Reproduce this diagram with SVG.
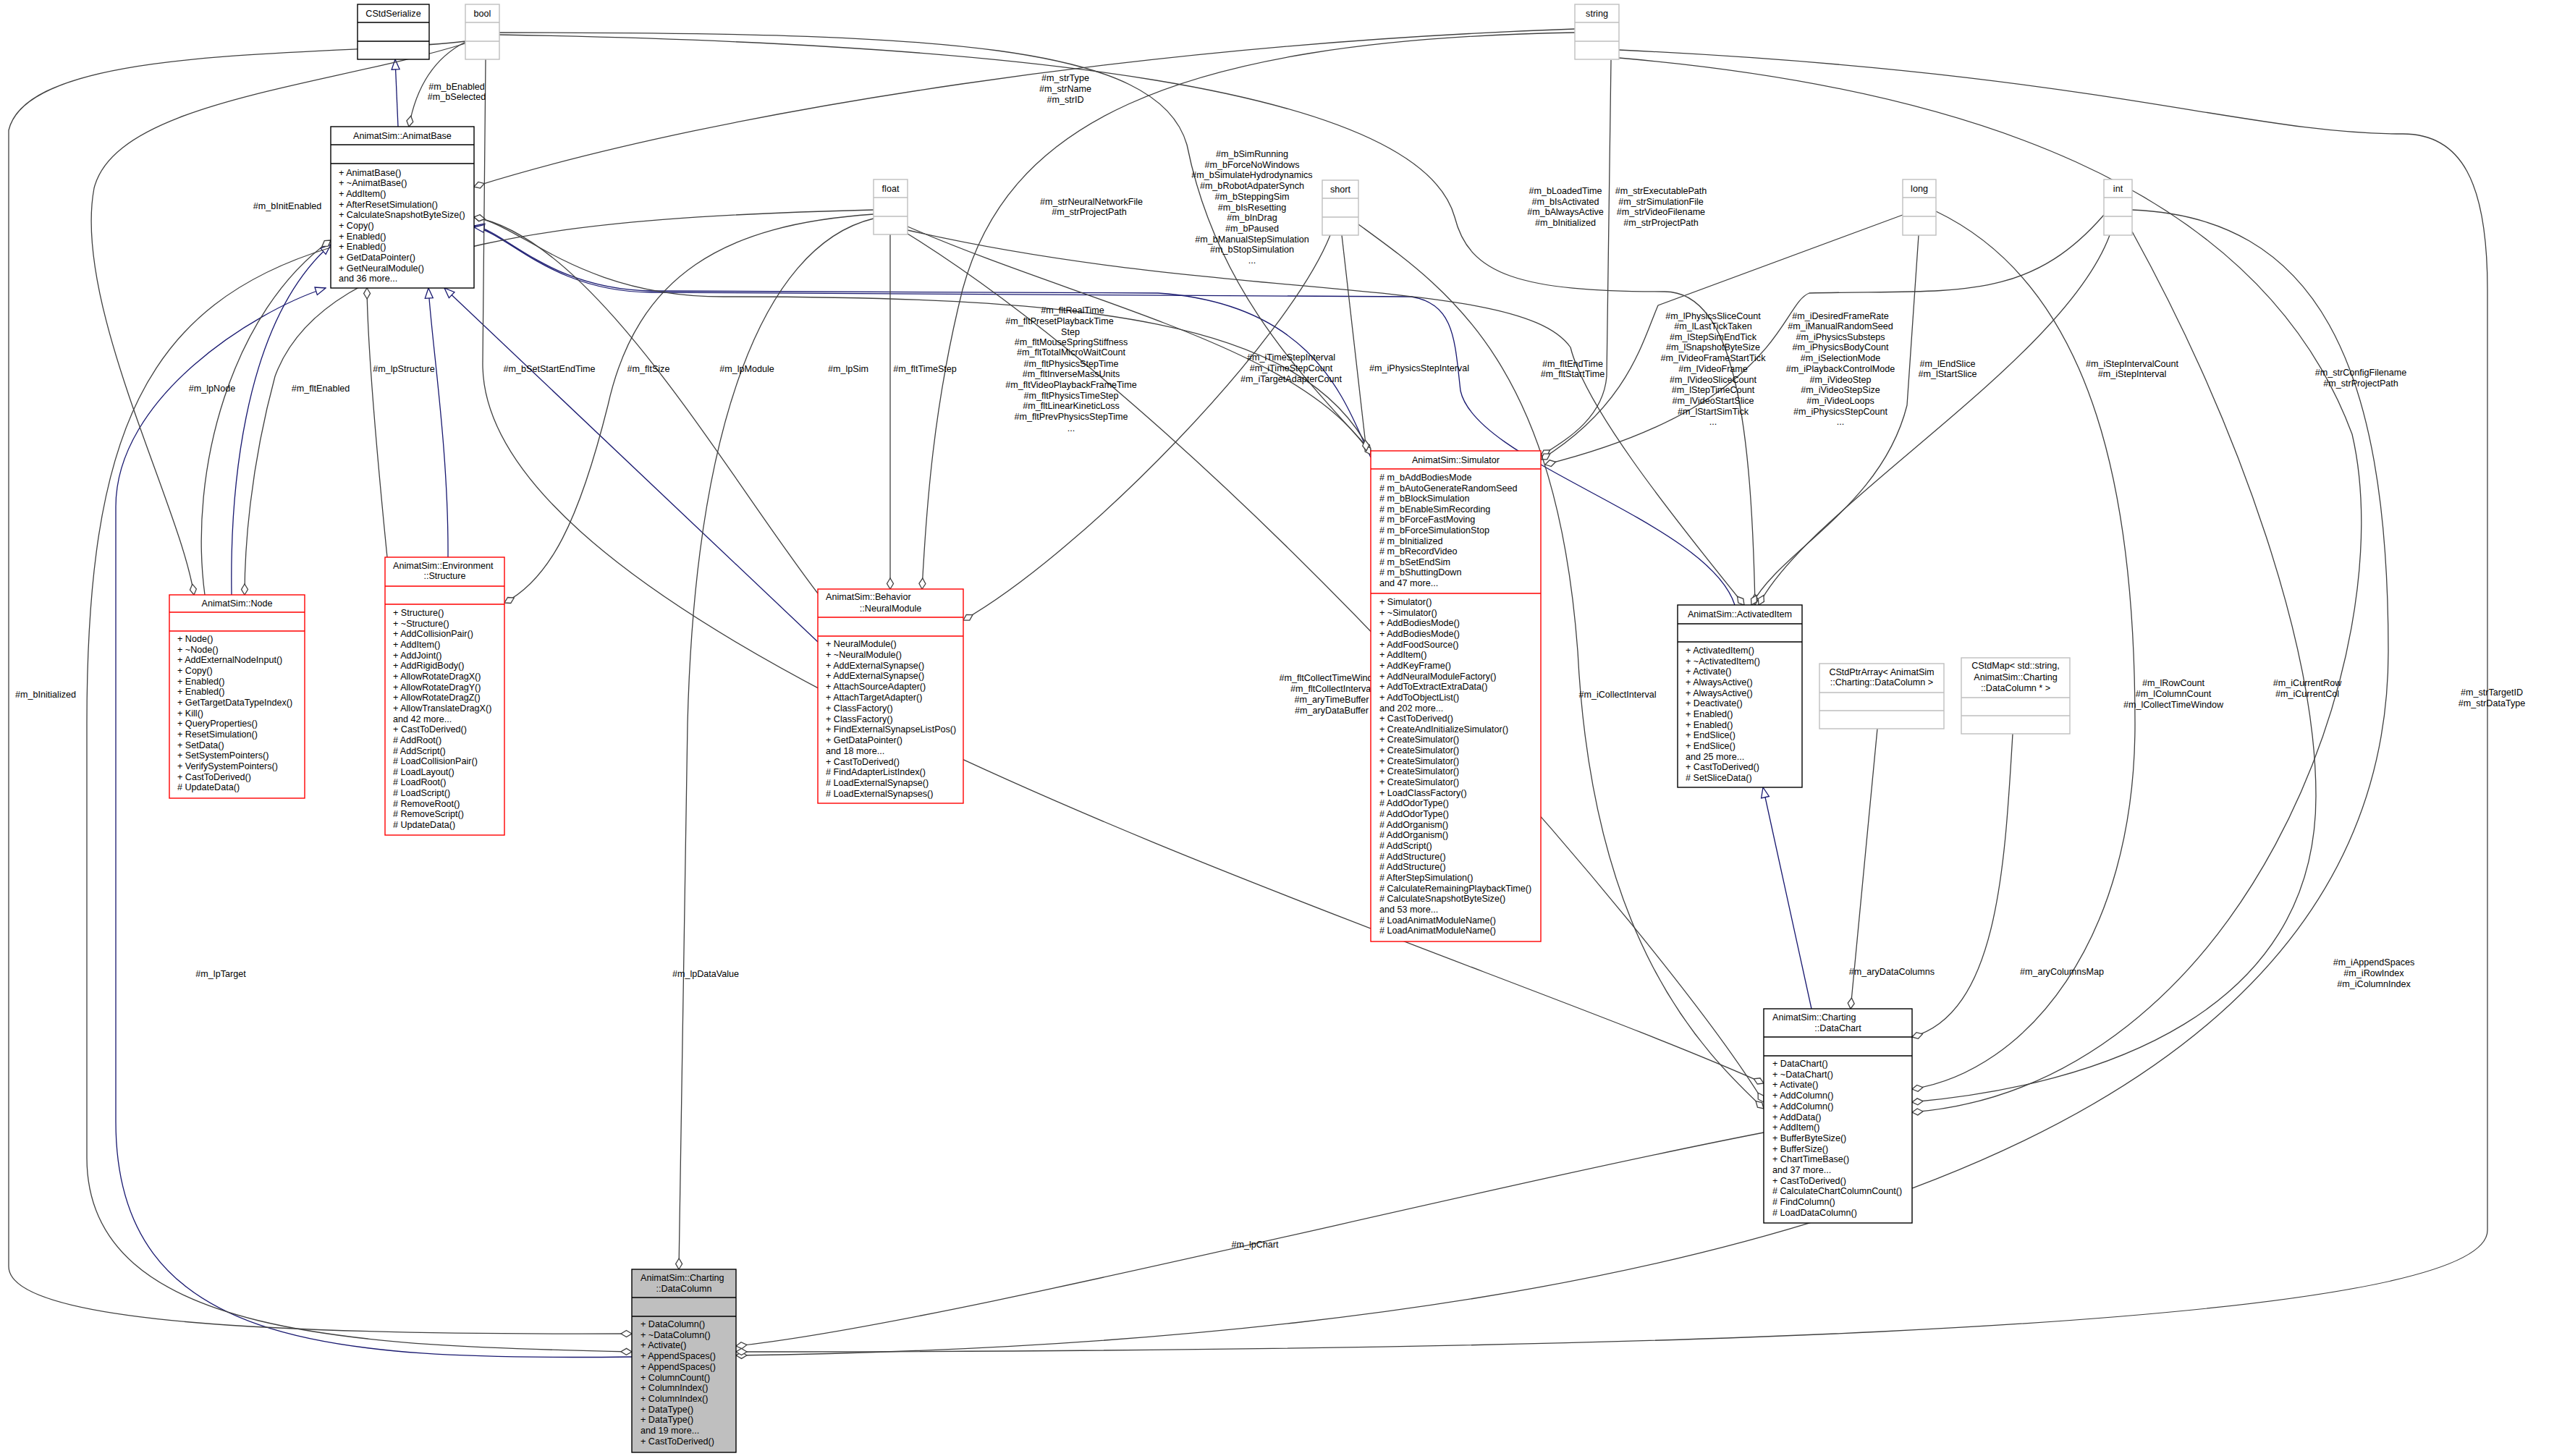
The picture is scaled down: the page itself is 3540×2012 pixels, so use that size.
<svg xmlns="http://www.w3.org/2000/svg" width="3540" height="2012" viewBox="0 0 3540 2012">
<style>
text{font-family:"Liberation Sans",Arial,sans-serif;font-size:12.6px;fill:#000}
.c{text-anchor:middle}
.bx{fill:#fff;stroke:#000;stroke-width:1.4}
.rd{fill:#fff;stroke:#f00;stroke-width:1.4}
.gy{fill:#fff;stroke:#bfbfbf;stroke-width:1.4}
.gr{fill:#bfbfbf;stroke:#000;stroke-width:1.4}
.e{fill:none;stroke:#404040;stroke-width:1.3;marker-end:url(#dia)}
.i{fill:none;stroke:#191970;stroke-width:1.3;marker-end:url(#tri)}
</style>
<defs>
<marker id="dia" markerUnits="userSpaceOnUse" viewBox="-17 -6 18 12" refX="0" refY="0" markerWidth="18" markerHeight="12" orient="auto"><path d="M0,0 L-7.5,-4.5 L-15,0 L-7.5,4.5 Z" fill="#fff" stroke="#404040" stroke-width="1.3"/></marker>
<marker id="tri" markerUnits="userSpaceOnUse" viewBox="-16 -7 17 14" refX="0" refY="0" markerWidth="17" markerHeight="14" orient="auto"><path d="M0,0 L-14,-5.5 L-14,5.5 Z" fill="#fff" stroke="#191970" stroke-width="1.3"/></marker>
</defs>
<rect width="3540" height="2012" fill="#fff"/>
<g id="edges">
<path class="i" d="M550,175 L546,82"/>
<path class="i" d="M320,822 C318,700 330,450 457,338"/>
<path class="i" d="M619,770 C620,620 596,470 592,398"/>
<path class="i" d="M1130,887 L614,398"/>
<path class="i" d="M1894,632 C1860,560 1820,420 1600,405 L900,402 C760,400 700,320 655,312"/>
<path class="i" d="M2397,836 C2360,720 2040,640 2018,540 C2010,470 2010,420 1950,410 L900,404 C760,403 700,320 655,314"/>
<path class="i" d="M2503,1394 L2436,1088"/>
<path class="i" d="M873,1875 C450,1880 160,1860 160,1550 L160,700 C160,550 350,430 450,398"/>
<path class="e" d="M643,58 C600,80 575,120 565,175"/>
<path class="e" d="M2176,40 C1600,60 1000,150 655,258"/>
<path class="e" d="M643,57 C450,80 40,60 12,180 L12,1750 C12,1830 400,1845 873,1843"/>
<path class="e" d="M643,60 C450,120 160,140 130,260 C100,420 250,700 268,822"/>
<path class="e" d="M283,822 C260,650 320,430 457,332"/>
<path class="e" d="M1207,290 C800,300 450,330 380,520 C345,650 338,760 338,822"/>
<path class="e" d="M1207,296 C1000,310 880,380 840,560 C800,720 760,800 697,833"/>
<path class="e" d="M1207,302 C1050,340 960,600 950,1000 L938,1754"/>
<path class="e" d="M535,770 C520,620 508,480 507,398"/>
<path class="e" d="M1130,820 C1000,650 820,330 655,300"/>
<path class="e" d="M1894,625 C1800,440 1500,410 1000,410 C800,410 720,310 655,300"/>
<path class="e" d="M1230,324 L1230,814"/>
<path class="e" d="M2176,45 C1600,55 1390,180 1330,400 C1290,560 1280,700 1274,814"/>
<path class="e" d="M1838,325 C1780,470 1500,760 1331,857"/>
<path class="e" d="M690,45 C1300,45 1600,60 1640,200 C1680,400 1800,520 1894,623"/>
<path class="e" d="M1254,313 C1500,420 1800,480 1894,628"/>
<path class="e" d="M1854,325 L1888,623"/>
<path class="e" d="M2226,83 L2220,520 C2215,580 2160,610 2129,630"/>
<path class="e" d="M2629,297 L2291,422 C2270,470 2250,560 2129,635"/>
<path class="e" d="M2907,297 C2800,420 2700,400 2500,405 C2460,420 2460,560 2135,642"/>
<path class="e" d="M690,48 C1400,60 1960,120 2010,300 C2030,380 2100,403 2300,403 C2400,403 2420,600 2425,836"/>
<path class="e" d="M1254,318 C1700,420 2100,380 2170,480 C2190,560 2300,700 2410,836"/>
<path class="e" d="M2651,325 L2635,560 C2600,700 2460,760 2420,836"/>
<path class="e" d="M2915,325 C2850,500 2500,700 2430,836"/>
<path class="e" d="M2594,1007 L2557,1394"/>
<path class="e" d="M2781,1014 C2770,1200 2760,1400 2642,1433"/>
<path class="e" d="M671,82 L667,500 C660,900 2000,1300 2437,1497"/>
<path class="e" d="M1254,323 C1700,600 2300,1300 2437,1523"/>
<path class="e" d="M1877,310 C2000,400 2150,500 2180,900 C2200,1300 2350,1450 2437,1532"/>
<path class="e" d="M2675,292 C2900,400 2950,700 2950,1000 C2950,1300 2800,1480 2642,1505"/>
<path class="e" d="M2946,320 C3100,600 3200,900 3200,1100 C3200,1400 2900,1500 2642,1523"/>
<path class="e" d="M2237,80 C2700,120 3120,250 3250,600 C3320,900 3100,1500 2642,1537"/>
<path class="e" d="M2437,1565 C2000,1650 1300,1830 1017,1860"/>
<path class="e" d="M2946,290 C3200,300 3300,500 3300,900 C3300,1700 2000,1860 1017,1873"/>
<path class="e" d="M2237,69 C2900,100 3100,185 3320,185 C3400,185 3437,250 3437,400 L3437,1700 C3437,1850 2000,1868 1017,1868"/>
<path class="e" d="M457,342 C200,420 120,600 120,1000 L120,1600 C120,1850 500,1860 873,1868"/>
</g>
<g id="labels">
<text class="c" x="631" y="124">#m_bEnabled</text>
<text class="c" x="631" y="138">#m_bSelected</text>
<text class="c" x="1472" y="112">#m_strType</text>
<text class="c" x="1472" y="127">#m_strName</text>
<text class="c" x="1472" y="142">#m_strID</text>
<text class="c" x="397" y="289">#m_bInitEnabled</text>
<text class="c" x="63" y="964">#m_bInitialized</text>
<text class="c" x="293" y="541">#m_lpNode</text>
<text class="c" x="443" y="541">#m_fltEnabled</text>
<text class="c" x="558" y="514">#m_lpStructure</text>
<text class="c" x="759" y="514">#m_bSetStartEndTime</text>
<text class="c" x="896" y="514">#m_fltSize</text>
<text class="c" x="1032" y="514">#m_lpModule</text>
<text class="c" x="1172" y="514">#m_lpSim</text>
<text class="c" x="1278" y="514">#m_fltTimeStep</text>
<text class="c" x="1508" y="283">#m_strNeuralNetworkFile</text>
<text class="c" x="1505" y="297">#m_strProjectPath</text>
<text class="c" x="1730"><tspan x="1730" y="217">#m_bSimRunning</tspan><tspan x="1730" y="231.7">#m_bForceNoWindows</tspan><tspan x="1730" y="246.4">#m_bSimulateHydrodynamics</tspan><tspan x="1730" y="261.1">#m_bRobotAdpaterSynch</tspan><tspan x="1730" y="275.8">#m_bSteppingSim</tspan><tspan x="1730" y="290.5">#m_bIsResetting</tspan><tspan x="1730" y="305.2">#m_bInDrag</tspan><tspan x="1730" y="319.9">#m_bPaused</tspan><tspan x="1730" y="334.6">#m_bManualStepSimulation</tspan><tspan x="1730" y="349.3">#m_bStopSimulation</tspan><tspan x="1730" y="364">...</tspan></text>
<text class="c"><tspan x="1482" y="433">#m_fltRealTime</tspan><tspan x="1464" y="448">#m_fltPresetPlaybackTime</tspan><tspan x="1479" y="463">Step</tspan><tspan x="1480" y="477">#m_fltMouseSpringStiffness</tspan><tspan x="1480" y="491">#m_fltTotalMicroWaitCount</tspan><tspan x="1480" y="507">#m_fltPhysicsStepTime</tspan><tspan x="1480" y="521">#m_fltInverseMassUnits</tspan><tspan x="1480" y="536">#m_fltVideoPlaybackFrameTime</tspan><tspan x="1480" y="551">#m_fltPhysicsTimeStep</tspan><tspan x="1480" y="565">#m_fltLinearKineticLoss</tspan><tspan x="1480" y="580">#m_fltPrevPhysicsStepTime</tspan><tspan x="1480" y="596">...</tspan></text>
<text class="c"><tspan x="1784" y="498">#m_iTimeStepInterval</tspan><tspan x="1784" y="513">#m_iTimeStepCount</tspan><tspan x="1784" y="528">#m_iTargetAdapterCount</tspan></text>
<text class="c" x="1961" y="513">#m_iPhysicsStepInterval</text>
<text class="c"><tspan x="2163" y="268">#m_bLoadedTime</tspan><tspan x="2163" y="283">#m_bIsActivated</tspan><tspan x="2163" y="297">#m_bAlwaysActive</tspan><tspan x="2163" y="312">#m_bInitialized</tspan></text>
<text class="c"><tspan x="2295" y="268">#m_strExecutablePath</tspan><tspan x="2295" y="283">#m_strSimulationFile</tspan><tspan x="2295" y="297">#m_strVideoFilename</tspan><tspan x="2295" y="312">#m_strProjectPath</tspan></text>
<text class="c"><tspan x="2173" y="507">#m_fltEndTime</tspan><tspan x="2173" y="521">#m_fltStartTime</tspan></text>
<text class="c"><tspan x="2367" y="441">#m_lPhysicsSliceCount</tspan><tspan x="2367" y="455">#m_lLastTickTaken</tspan><tspan x="2367" y="470">#m_lStepSimEndTick</tspan><tspan x="2367" y="484">#m_lSnapshotByteSize</tspan><tspan x="2367" y="499">#m_lVideoFrameStartTick</tspan><tspan x="2367" y="514">#m_lVideoFrame</tspan><tspan x="2367" y="529">#m_lVideoSliceCount</tspan><tspan x="2367" y="543">#m_lStepTimeCount</tspan><tspan x="2367" y="558">#m_lVideoStartSlice</tspan><tspan x="2367" y="573">#m_lStartSimTick</tspan><tspan x="2367" y="587">...</tspan></text>
<text class="c"><tspan x="2543" y="441">#m_iDesiredFrameRate</tspan><tspan x="2543" y="455">#m_iManualRandomSeed</tspan><tspan x="2543" y="470">#m_iPhysicsSubsteps</tspan><tspan x="2543" y="484">#m_iPhysicsBodyCount</tspan><tspan x="2543" y="499">#m_iSelectionMode</tspan><tspan x="2543" y="514">#m_iPlaybackControlMode</tspan><tspan x="2543" y="529">#m_iVideoStep</tspan><tspan x="2543" y="543">#m_iVideoStepSize</tspan><tspan x="2543" y="558">#m_iVideoLoops</tspan><tspan x="2543" y="573">#m_iPhysicsStepCount</tspan><tspan x="2543" y="587">...</tspan></text>
<text class="c"><tspan x="2691" y="507">#m_lEndSlice</tspan><tspan x="2691" y="521">#m_lStartSlice</tspan></text>
<text class="c"><tspan x="2946" y="507">#m_iStepIntervalCount</tspan><tspan x="2946" y="521">#m_iStepInterval</tspan></text>
<text class="c"><tspan x="3262" y="519">#m_strConfigFilename</tspan><tspan x="3262" y="534">#m_strProjectPath</tspan></text>
<text class="c"><tspan x="1840" y="941">#m_fltCollectTimeWindow</tspan><tspan x="1840" y="956">#m_fltCollectInterval</tspan><tspan x="1840" y="971">#m_aryTimeBuffer</tspan><tspan x="1840" y="986">#m_aryDataBuffer</tspan></text>
<text class="c" x="2235" y="964">#m_iCollectInterval</text>
<text class="c"><tspan x="3003" y="948">#m_lRowCount</tspan><tspan x="3003" y="963">#m_lColumnCount</tspan><tspan x="3003" y="978">#m_lCollectTimeWindow</tspan></text>
<text class="c"><tspan x="3188" y="948">#m_iCurrentRow</tspan><tspan x="3188" y="963">#m_iCurrentCol</tspan></text>
<text class="c"><tspan x="3443" y="961">#m_strTargetID</tspan><tspan x="3443" y="976">#m_strDataType</tspan></text>
<text class="c" x="2614" y="1347">#m_aryDataColumns</text>
<text class="c" x="2849" y="1347">#m_aryColumnsMap</text>
<text class="c"><tspan x="3280" y="1334">#m_iAppendSpaces</tspan><tspan x="3280" y="1349">#m_iRowIndex</tspan><tspan x="3280" y="1364">#m_iColumnIndex</tspan></text>
<text class="c" x="305" y="1350">#m_lpTarget</text>
<text class="c" x="975" y="1350">#m_lpDataValue</text>
<text class="c" x="1734" y="1724">#m_lpChart</text>
</g>
<g id="CStdSerialize"><rect class="bx" x="494" y="6" width="99" height="76"/><path class="bx" d="M494,31H593M494,57H593"/><text class="c" x="543.5" y="23">CStdSerialize</text></g>
<g id="bool"><rect class="gy" x="643" y="6" width="47" height="76"/><path class="gy" d="M643,31H690M643,57H690"/><text class="c" x="666.5" y="23">bool</text></g>
<g id="string"><rect class="gy" x="2176" y="6" width="61" height="76"/><path class="gy" d="M2176,31H2237M2176,57H2237"/><text class="c" x="2206.5" y="23">string</text></g>
<g id="float"><rect class="gy" x="1207" y="248" width="47" height="76"/><path class="gy" d="M1207,273H1254M1207,299H1254"/><text class="c" x="1230.5" y="265">float</text></g>
<g id="short"><rect class="gy" x="1827" y="249" width="50" height="76"/><path class="gy" d="M1827,274H1877M1827,300H1877"/><text class="c" x="1852" y="266">short</text></g>
<g id="long"><rect class="gy" x="2629" y="248" width="46" height="77"/><path class="gy" d="M2629,273H2675M2629,299H2675"/><text class="c" x="2652" y="265">long</text></g>
<g id="int"><rect class="gy" x="2907" y="248" width="39" height="77"/><path class="gy" d="M2907,273H2946M2907,299H2946"/><text class="c" x="2926.5" y="265">int</text></g>
<g id="AnimatBase"><rect class="bx" x="457" y="175" width="198" height="223"/><path class="bx" d="M457,200H655M457,226H655"/><text class="c" x="556" y="192">AnimatSim::AnimatBase</text>
<text><tspan x="468" y="242.5">+ AnimatBase()</tspan><tspan x="468" y="257.2">+ ~AnimatBase()</tspan><tspan x="468" y="271.8">+ AddItem()</tspan><tspan x="468" y="286.5">+ AfterResetSimulation()</tspan><tspan x="468" y="301.2">+ CalculateSnapshotByteSize()</tspan><tspan x="468" y="315.8">+ Copy()</tspan><tspan x="468" y="330.5">+ Enabled()</tspan><tspan x="468" y="345.2">+ Enabled()</tspan><tspan x="468" y="359.9">+ GetDataPointer()</tspan><tspan x="468" y="374.5">+ GetNeuralModule()</tspan><tspan x="468" y="389.2">and 36 more...</tspan></text></g>
<g id="Node"><rect class="rd" x="234" y="822" width="187" height="281"/><path class="rd" d="M234,846H421M234,872H421"/><text class="c" x="327.5" y="838">AnimatSim::Node</text>
<text><tspan x="245" y="887">+ Node()</tspan><tspan x="245" y="901.7">+ ~Node()</tspan><tspan x="245" y="916.3">+ AddExternalNodeInput()</tspan><tspan x="245" y="930.9">+ Copy()</tspan><tspan x="245" y="945.6">+ Enabled()</tspan><tspan x="245" y="960.3">+ Enabled()</tspan><tspan x="245" y="974.9">+ GetTargetDataTypeIndex()</tspan><tspan x="245" y="989.6">+ Kill()</tspan><tspan x="245" y="1004.2">+ QueryProperties()</tspan><tspan x="245" y="1018.9">+ ResetSimulation()</tspan><tspan x="245" y="1033.5">+ SetData()</tspan><tspan x="245" y="1048.2">+ SetSystemPointers()</tspan><tspan x="245" y="1062.8">+ VerifySystemPointers()</tspan><tspan x="245" y="1077.5">+ CastToDerived()</tspan><tspan x="245" y="1092.1"># UpdateData()</tspan></text></g>
<g id="Structure"><rect class="rd" x="532" y="770" width="165" height="384"/><path class="rd" d="M532,810H697M532,835H697"/><text><tspan x="543" y="786">AnimatSim::Environment</tspan><tspan class="c" x="614.5" y="800">::Structure</tspan></text>
<text><tspan x="543" y="851">+ Structure()</tspan><tspan x="543" y="865.7">+ ~Structure()</tspan><tspan x="543" y="880.3">+ AddCollisionPair()</tspan><tspan x="543" y="895">+ AddItem()</tspan><tspan x="543" y="909.6">+ AddJoint()</tspan><tspan x="543" y="924.3">+ AddRigidBody()</tspan><tspan x="543" y="938.9">+ AllowRotateDragX()</tspan><tspan x="543" y="953.6">+ AllowRotateDragY()</tspan><tspan x="543" y="968.2">+ AllowRotateDragZ()</tspan><tspan x="543" y="982.9">+ AllowTranslateDragX()</tspan><tspan x="543" y="997.5">and 42 more...</tspan><tspan x="543" y="1012.2">+ CastToDerived()</tspan><tspan x="543" y="1026.8"># AddRoot()</tspan><tspan x="543" y="1041.5"># AddScript()</tspan><tspan x="543" y="1056.1"># LoadCollisionPair()</tspan><tspan x="543" y="1070.8"># LoadLayout()</tspan><tspan x="543" y="1085.4"># LoadRoot()</tspan><tspan x="543" y="1100.1"># LoadScript()</tspan><tspan x="543" y="1114.7"># RemoveRoot()</tspan><tspan x="543" y="1129.4"># RemoveScript()</tspan><tspan x="543" y="1144"># UpdateData()</tspan></text></g>
<g id="NeuralModule"><rect class="rd" x="1130" y="814" width="201" height="296"/><path class="rd" d="M1130,853H1331M1130,879H1331"/><text><tspan x="1141" y="829">AnimatSim::Behavior</tspan><tspan class="c" x="1230.5" y="845">::NeuralModule</tspan></text>
<text><tspan x="1141" y="894">+ NeuralModule()</tspan><tspan x="1141" y="908.8">+ ~NeuralModule()</tspan><tspan x="1141" y="923.6">+ AddExternalSynapse()</tspan><tspan x="1141" y="938.3">+ AddExternalSynapse()</tspan><tspan x="1141" y="953.1">+ AttachSourceAdapter()</tspan><tspan x="1141" y="967.9">+ AttachTargetAdapter()</tspan><tspan x="1141" y="982.7">+ ClassFactory()</tspan><tspan x="1141" y="997.5">+ ClassFactory()</tspan><tspan x="1141" y="1012.2">+ FindExternalSynapseListPos()</tspan><tspan x="1141" y="1027">+ GetDataPointer()</tspan><tspan x="1141" y="1041.8">and 18 more...</tspan><tspan x="1141" y="1056.6">+ CastToDerived()</tspan><tspan x="1141" y="1071.4"># FindAdapterListIndex()</tspan><tspan x="1141" y="1086.1"># LoadExternalSynapse()</tspan><tspan x="1141" y="1100.9"># LoadExternalSynapses()</tspan></text></g>
<g id="Simulator"><rect class="rd" x="1894" y="623" width="235" height="678"/><path class="rd" d="M1894,648H2129M1894,820H2129"/><text class="c" x="2011.5" y="640">AnimatSim::Simulator</text>
<text><tspan x="1906" y="664"># m_bAddBodiesMode</tspan><tspan x="1906" y="678.6"># m_bAutoGenerateRandomSeed</tspan><tspan x="1906" y="693.2"># m_bBlockSimulation</tspan><tspan x="1906" y="707.8"># m_bEnableSimRecording</tspan><tspan x="1906" y="722.4"># m_bForceFastMoving</tspan><tspan x="1906" y="737"># m_bForceSimulationStop</tspan><tspan x="1906" y="751.6"># m_bInitialized</tspan><tspan x="1906" y="766.2"># m_bRecordVideo</tspan><tspan x="1906" y="780.8"># m_bSetEndSim</tspan><tspan x="1906" y="795.4"># m_bShuttingDown</tspan><tspan x="1906" y="810">and 47 more...</tspan></text>
<text><tspan x="1906" y="836">+ Simulator()</tspan><tspan x="1906" y="850.65">+ ~Simulator()</tspan><tspan x="1906" y="865.3">+ AddBodiesMode()</tspan><tspan x="1906" y="879.95">+ AddBodiesMode()</tspan><tspan x="1906" y="894.6">+ AddFoodSource()</tspan><tspan x="1906" y="909.25">+ AddItem()</tspan><tspan x="1906" y="923.9">+ AddKeyFrame()</tspan><tspan x="1906" y="938.55">+ AddNeuralModuleFactory()</tspan><tspan x="1906" y="953.2">+ AddToExtractExtraData()</tspan><tspan x="1906" y="967.85">+ AddToObjectList()</tspan><tspan x="1906" y="982.5">and 202 more...</tspan><tspan x="1906" y="997.15">+ CastToDerived()</tspan><tspan x="1906" y="1011.8">+ CreateAndInitializeSimulator()</tspan><tspan x="1906" y="1026.45">+ CreateSimulator()</tspan><tspan x="1906" y="1041.1">+ CreateSimulator()</tspan><tspan x="1906" y="1055.75">+ CreateSimulator()</tspan><tspan x="1906" y="1070.4">+ CreateSimulator()</tspan><tspan x="1906" y="1085.05">+ CreateSimulator()</tspan><tspan x="1906" y="1099.7">+ LoadClassFactory()</tspan><tspan x="1906" y="1114.35"># AddOdorType()</tspan><tspan x="1906" y="1129"># AddOdorType()</tspan><tspan x="1906" y="1143.65"># AddOrganism()</tspan><tspan x="1906" y="1158.3"># AddOrganism()</tspan><tspan x="1906" y="1172.95"># AddScript()</tspan><tspan x="1906" y="1187.6"># AddStructure()</tspan><tspan x="1906" y="1202.25"># AddStructure()</tspan><tspan x="1906" y="1216.9"># AfterStepSimulation()</tspan><tspan x="1906" y="1231.55"># CalculateRemainingPlaybackTime()</tspan><tspan x="1906" y="1246.2"># CalculateSnapshotByteSize()</tspan><tspan x="1906" y="1260.85">and 53 more...</tspan><tspan x="1906" y="1275.5"># LoadAnimatModuleName()</tspan><tspan x="1906" y="1290.15"># LoadAnimatModuleName()</tspan></text></g>
<g id="ActivatedItem"><rect class="bx" x="2318" y="836" width="172" height="252"/><path class="bx" d="M2318,862H2490M2318,887H2490"/><text class="c" x="2404" y="853">AnimatSim::ActivatedItem</text>
<text><tspan x="2329" y="903">+ ActivatedItem()</tspan><tspan x="2329" y="917.7">+ ~ActivatedItem()</tspan><tspan x="2329" y="932.3">+ Activate()</tspan><tspan x="2329" y="947">+ AlwaysActive()</tspan><tspan x="2329" y="961.7">+ AlwaysActive()</tspan><tspan x="2329" y="976.4">+ Deactivate()</tspan><tspan x="2329" y="991">+ Enabled()</tspan><tspan x="2329" y="1005.7">+ Enabled()</tspan><tspan x="2329" y="1020.4">+ EndSlice()</tspan><tspan x="2329" y="1035">+ EndSlice()</tspan><tspan x="2329" y="1049.7">and 25 more...</tspan><tspan x="2329" y="1064.4">+ CastToDerived()</tspan><tspan x="2329" y="1079"># SetSliceData()</tspan></text></g>
<g id="CStdPtrArray"><rect class="gy" x="2514" y="917" width="172" height="90"/><path class="gy" d="M2514,957H2686M2514,982H2686"/><text class="c"><tspan x="2600" y="933">CStdPtrArray&lt; AnimatSim</tspan><tspan x="2600" y="947">::Charting::DataColumn &gt;</tspan></text></g>
<g id="CStdMap"><rect class="gy" x="2710" y="909" width="150" height="105"/><path class="gy" d="M2710,964H2860M2710,989H2860"/><text class="c"><tspan x="2785" y="924">CStdMap&lt; std::string,</tspan><tspan x="2785" y="940">AnimatSim::Charting</tspan><tspan x="2785" y="955">::DataColumn * &gt;</tspan></text></g>
<g id="DataChart"><rect class="bx" x="2437" y="1394" width="205" height="296"/><path class="bx" d="M2437,1433H2642M2437,1459H2642"/><text><tspan x="2449" y="1410">AnimatSim::Charting</tspan><tspan class="c" x="2539.5" y="1425">::DataChart</tspan></text>
<text><tspan x="2449" y="1474">+ DataChart()</tspan><tspan x="2449" y="1488.7">+ ~DataChart()</tspan><tspan x="2449" y="1503.4">+ Activate()</tspan><tspan x="2449" y="1518.1">+ AddColumn()</tspan><tspan x="2449" y="1532.8">+ AddColumn()</tspan><tspan x="2449" y="1547.5">+ AddData()</tspan><tspan x="2449" y="1562.2">+ AddItem()</tspan><tspan x="2449" y="1576.9">+ BufferByteSize()</tspan><tspan x="2449" y="1591.6">+ BufferSize()</tspan><tspan x="2449" y="1606.3">+ ChartTimeBase()</tspan><tspan x="2449" y="1621">and 37 more...</tspan><tspan x="2449" y="1635.7">+ CastToDerived()</tspan><tspan x="2449" y="1650.4"># CalculateChartColumnCount()</tspan><tspan x="2449" y="1665.1"># FindColumn()</tspan><tspan x="2449" y="1679.8"># LoadDataColumn()</tspan></text></g>
<g id="DataColumn"><rect class="gr" x="873" y="1754" width="144" height="253"/><path class="gr" d="M873,1793H1017M873,1819H1017"/><text><tspan x="885" y="1770">AnimatSim::Charting</tspan><tspan class="c" x="945" y="1785">::DataColumn</tspan></text>
<text><tspan x="885" y="1834">+ DataColumn()</tspan><tspan x="885" y="1848.7">+ ~DataColumn()</tspan><tspan x="885" y="1863.4">+ Activate()</tspan><tspan x="885" y="1878.1">+ AppendSpaces()</tspan><tspan x="885" y="1892.8">+ AppendSpaces()</tspan><tspan x="885" y="1907.5">+ ColumnCount()</tspan><tspan x="885" y="1922.2">+ ColumnIndex()</tspan><tspan x="885" y="1936.9">+ ColumnIndex()</tspan><tspan x="885" y="1951.6">+ DataType()</tspan><tspan x="885" y="1966.3">+ DataType()</tspan><tspan x="885" y="1981">and 19 more...</tspan><tspan x="885" y="1995.7">+ CastToDerived()</tspan></text></g>
</svg>
